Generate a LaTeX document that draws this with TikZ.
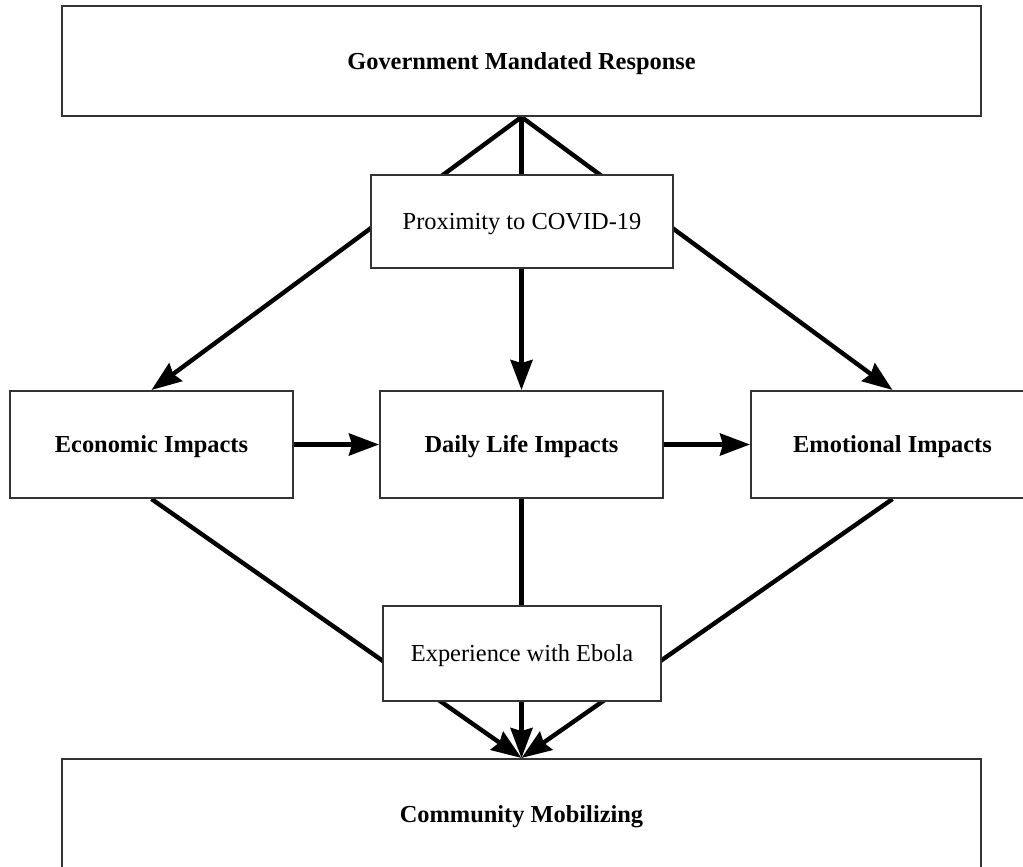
\documentclass[tikz,border=0pt]{standalone}
\usepackage{fontspec}
\setmainfont{Liberation Serif}
\usepackage{tikz}
\usetikzlibrary{arrows.meta,backgrounds}
\definecolor{boxInk}{HTML}{333333}
\tikzset{
  box/.style     = {draw=boxInk, line width=1pt, fill=white, inner sep=0pt,
                    text height=8pt, text depth=0pt,
                    font=\fontsize{12.2}{14}\selectfont},
  boxb/.style    = {box, font=\fontsize{12.2}{14}\selectfont\bfseries},
  arr/.style     = {-{Stealth[length=15pt, width=11pt, inset=1.5pt]},
                    line width=2.2pt},
}

\begin{document}
\begin{tikzpicture}[x=0.5pt, y=-0.5pt]
  \useasboundingbox (0,0) rectangle (1023,867);
  \node[boxb, minimum width=459.5pt, minimum height=55pt] (gov) at (521.5,61)
    {Government Mandated Response};
  \node[box, minimum width=151pt, minimum height=46.5pt] (prox) at (522,221.5)
    {Proximity to COVID-19};
  \node[boxb, minimum width=141.5pt, minimum height=53.5pt] (econ) at (151.5,444.5)
    {Economic Impacts};
  \node[boxb, minimum width=141.5pt, minimum height=53.5pt] (daily) at (521.5,444.5)
    {Daily Life Impacts};
  \node[boxb, minimum width=141.5pt, minimum height=53.5pt] (emo) at (892.5,444.5)
    {Emotional Impacts};
  \node[box, minimum width=139pt, minimum height=47.5pt] (ebola) at (522,653.5)
    {Experience with Ebola};
  \node[boxb, minimum width=459.5pt, minimum height=55pt] (comm) at (521.5,814)
    {Community Mobilizing};
  % connectors go behind the moderator boxes
  \begin{scope}[on background layer]
    \draw[arr] (gov.south) -- (econ.north);
    \draw[arr] (gov.south) -- (daily.north);
    \draw[arr] (gov.south) -- (emo.north);
    \draw[arr] (econ.south) -- (comm.north);
    \draw[arr] (daily.south) -- (comm.north);
    \draw[arr] (emo.south) -- (comm.north);
  \end{scope}
  \draw[arr] (econ.east) -- (daily.west);
  \draw[arr] (daily.east) -- (emo.west);
\end{tikzpicture}
\end{document}
